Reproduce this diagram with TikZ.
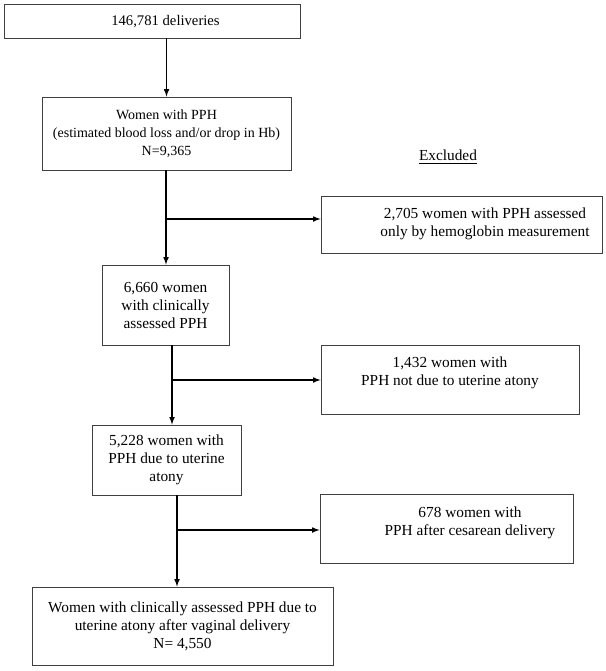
\documentclass[tikz,border=0pt]{standalone}
\usepackage{fontspec}
\setmainfont{Liberation Serif}
\usepackage{tikz}
\usetikzlibrary{shapes,arrows,positioning,calc}

\tikzset{
  box/.style={draw=black!75, line width=0.7pt, rectangle, align=center, inner sep=0pt,
    font=\fontsize{11.5}{13.5}\selectfont},
  txt/.style={align=center, inner sep=0pt, font=\fontsize{11.5}{13.5}\selectfont},
  arr/.style={-latex, line width=0.9pt}
}

\begin{document}
\begin{tikzpicture}[x=0.75pt,y=-0.75pt]
    \useasboundingbox (0,0) rectangle (606,671);

    % Main flow (left column)
    \node[box, minimum width=222pt, minimum height=25.5pt] (deliv) at (152,21) {};
    \node[txt, font=\fontsize{11}{13.5}\selectfont] (delivtext) at (165.5,22) {146,781 deliveries};
    \node[box, minimum width=186.75pt, minimum height=54.75pt, font=\fontsize{10.5}{13.5}\selectfont] (pph) at (166.5,133.5)
        {Women with PPH\\(estimated blood loss and/or drop in Hb)\\N=9,365};
    \node[box, minimum width=95.25pt, minimum height=60pt] (clin) at (165.5,305)
        {6,660 women\\with clinically\\assessed PPH};
    \node[box, minimum width=111.75pt, minimum height=52.5pt] (atony) at (166.5,460)
        {5,228 women with\\PPH due to uterine\\atony};
    \node[box, minimum width=225.75pt, minimum height=58.5pt] (vag) at (182.5,626)
        {Women with clinically assessed PPH due to\\uterine atony after vaginal delivery\\N= 4,550};

    % Excluded (right column)
    \node[txt] (excl) at (448,157) {\underline{Excluded}};
    \node[box, minimum width=210.75pt, minimum height=42.75pt] (hb) at (461.5,224.5) {};
    \node[txt] (hbtext) at (485,224) {2,705 women with PPH assessed\\only by hemoglobin measurement};
    \node[box, minimum width=193.5pt, minimum height=51.75pt] (notatony) at (450,379.5) {};
    \node[txt] (notatonytext) at (450,373) {1,432 women with\\PPH not due to uterine atony};
    \node[box, minimum width=189.75pt, minimum height=51.75pt] (cesar) at (446.5,528.5) {};
    \node[txt] (cesartext) at (470,522.5) {678 women with\\PPH after cesarean delivery};

    % Junctions
    \coordinate (j1) at (166,219);
    \coordinate (j2) at (172,380);
    \coordinate (j3) at (177,530);

    % Arrows
    \draw[arr] (deliv.south -| pph.north) -- (pph.north);
    \draw[arr] (pph.south -| j1) -- (clin.north -| j1);
    \draw[arr] (j1) -- (j1 -| hb.west);
    \draw[arr] (clin.south -| j2) -- (atony.north -| j2);
    \draw[arr] (j2) -- (j2 -| notatony.west);
    \draw[arr] (atony.south -| j3) -- (vag.north -| j3);
    \draw[arr] (j3) -- (j3 -| cesar.west);
\end{tikzpicture}
\end{document}
